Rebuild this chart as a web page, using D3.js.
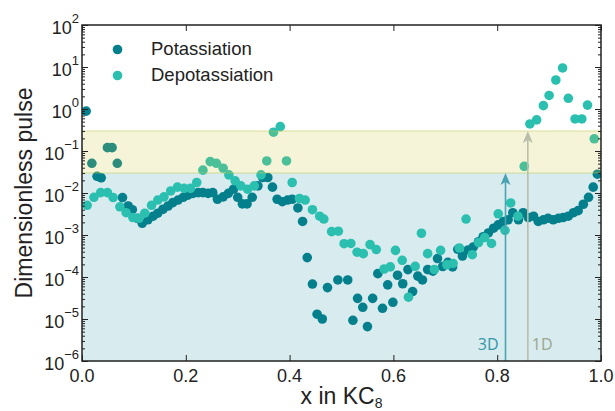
<!DOCTYPE html>
<html>
<head>
<meta charset="utf-8">
<script src="https://cdn.jsdelivr.net/npm/d3@7"></script>
<style>
  body { margin: 0; background: #fff; }
  svg text { font-family: "Liberation Sans", Arial, Helvetica, sans-serif; fill: #222; }
</style>
</head>
<body>
<div id="chart"></div>
<script>
const width = 615,
   height = 411,
   margin = {top: 25, right: 14, bottom: 50, left: 82};

// Potassiation: x in KC8 and pulse
const potX = [0.008, 0.019, 0.029, 0.037, 0.049, 0.058, 0.068, 0.078, 0.089, 0.097,
   0.107, 0.116, 0.127, 0.137, 0.146, 0.156, 0.166, 0.175, 0.185, 0.195,
   0.204, 0.214, 0.224, 0.233, 0.243, 0.252, 0.261, 0.272, 0.282, 0.292,
   0.300, 0.309, 0.318, 0.328, 0.339, 0.348, 0.358, 0.367, 0.376, 0.386,
   0.396, 0.405, 0.416, 0.425, 0.434, 0.444, 0.453, 0.463, 0.473, 0.493,
   0.512, 0.522, 0.531, 0.541, 0.550, 0.560, 0.570, 0.579, 0.589, 0.599,
   0.608, 0.618, 0.628, 0.637, 0.647, 0.656, 0.666, 0.676, 0.685, 0.695,
   0.705, 0.714, 0.724, 0.733, 0.744, 0.754, 0.764, 0.773, 0.783, 0.793,
   0.802, 0.812, 0.821, 0.830, 0.841, 0.850, 0.860, 0.870, 0.879, 0.889,
   0.898, 0.908, 0.918, 0.927, 0.937, 0.947, 0.956, 0.966, 0.976, 0.985, 0.993];
const potY = [0.89, 0.051, 0.025, 0.023, 0.12, 0.12, 0.051, 0.0078, 0.0049, 0.0040,
   0.0025, 0.0019, 0.0023, 0.0028, 0.0033, 0.0041, 0.0049, 0.0059, 0.0068, 0.0079,
   0.0089, 0.0098, 0.0102, 0.0102, 0.0098, 0.0102, 0.0071, 0.0081, 0.0098, 0.0123,
   0.0079, 0.0055, 0.0055, 0.0079, 0.0148, 0.0234, 0.0234, 0.0138, 0.0071, 0.0062,
   0.0068, 0.0071, 0.0044, 0.0021, 0.00029, 0.000068, 0.000013, 0.000010, 0.000056, 0.000085,
   0.000085, 0.0000093, 0.000031, 0.000019, 0.0000066, 0.000031, 0.00012, 0.000018, 0.000065, 0.000025,
   0.00011, 0.000069, 0.00015, 0.000045, 0.000105, 0.000085, 0.00015, 0.000138, 0.000275, 0.000178,
   0.000224, 0.000174, 0.000457, 0.000316, 0.00044, 0.00052, 0.00069, 0.00091, 0.00112, 0.00145,
   0.00174, 0.0021, 0.0023, 0.0034, 0.0023, 0.0034, 0.0026, 0.0028, 0.0021, 0.0023,
   0.0025, 0.0023, 0.0025, 0.0026, 0.0028, 0.0034, 0.0038, 0.0054, 0.0079, 0.0138, 0.028];

// Depotassiation
const depX = [0.010, 0.023, 0.036, 0.049, 0.060, 0.073, 0.085, 0.098, 0.110, 0.121,
   0.134, 0.146, 0.158, 0.171, 0.184, 0.197, 0.209, 0.221, 0.233, 0.247,
   0.259, 0.272, 0.283, 0.295, 0.306, 0.319, 0.332, 0.345, 0.356, 0.369,
   0.382, 0.394, 0.405, 0.419, 0.430, 0.444, 0.458, 0.466, 0.481, 0.494,
   0.505, 0.518, 0.530, 0.542, 0.555, 0.567, 0.582, 0.594, 0.604, 0.617,
   0.629, 0.642, 0.654, 0.666, 0.679, 0.691, 0.703, 0.715, 0.727, 0.740,
   0.752, 0.764, 0.776, 0.789, 0.802, 0.815, 0.826, 0.840, 0.852, 0.863,
   0.876, 0.889, 0.900, 0.913, 0.926, 0.937, 0.950, 0.963, 0.974, 0.987];
const depY = [0.0051, 0.0079, 0.0102, 0.0102, 0.0078, 0.0047, 0.0034, 0.0026, 0.0025, 0.0033,
   0.0051, 0.0068, 0.0081, 0.0112, 0.0138, 0.0129, 0.0129, 0.0178, 0.035, 0.056,
   0.051, 0.039, 0.027, 0.0195, 0.0148, 0.0123, 0.0148, 0.027, 0.058, 0.28,
   0.38, 0.058, 0.0178, 0.0074, 0.0068, 0.0040, 0.0028, 0.0024, 0.0012, 0.00123,
   0.00062, 0.00063, 0.00039, 0.00036, 0.00059, 0.00045, 0.000155, 0.000174, 0.00043, 0.00025,
   0.000033, 0.00018, 0.0011, 0.00036, 0.000151, 0.00043, 0.000195, 0.00021, 0.00049, 0.0024,
   0.00034, 0.00066, 0.00087, 0.00063, 0.0032, 0.00129, 0.0058, 0.0028, 0.043, 0.44,
   0.55, 1.2, 2.1, 4.9, 9.5, 1.8, 0.58, 0.58, 1.24, 0.195];

const xTicks = [0, 0.2, 0.4, 0.6, 0.8, 1.0];
const yExponents = [-6, -5, -4, -3, -2, -1, 0, 1, 2];
const seriesNames = ['Potassiation', 'Depotassiation'];
const seriesColors = ['#047f8c', '#2bbfb0'];
const bands = [[1e-6, 0.03], [0.03, 0.3]];
const arrows = [{label: '3D', x: 0.816, top: 0.03}, {label: '1D', x: 0.859, top: 0.3}];

const svg = d3.select('#chart')
   .append('svg')
   .attr('width', width)
   .attr('height', height);

const xScale = d3.scaleLinear()
   .domain([0, 1])
   .range([margin.left, width - margin.right]);

const yScale = d3.scaleLog()
   .domain([1e-6, 1e2])
   .range([height - margin.bottom, margin.top]);

const x0 = xScale(0), x1 = xScale(1), y0 = yScale(1e-6), y1 = yScale(1e2);

svg.append('clipPath').attr('id', 'plot-clip')
   .append('rect')
   .attr('x', x0).attr('y', y1)
   .attr('width', x1 - x0).attr('height', y0 - y1);

const plot = svg.append('g').attr('clip-path', 'url(#plot-clip)');

// blue band beneath points
plot.append('rect')
   .attr('x', x0)
   .attr('width', x1 - x0)
   .attr('y', yScale(bands[0][1]))
   .attr('height', yScale(bands[0][0]) - yScale(bands[0][1]))
   .attr('fill', '#d8ebee');

const potData = potX.map((d, i) => ({x: d, y: potY[i]}));
const depData = depX.map((d, i) => ({x: d, y: depY[i]}));

[potData, depData].forEach((data, k) => {
   plot.append('g')
      .selectAll('circle')
      .data(data)
      .join('circle')
      .attr('cx', d => xScale(d.x))
      .attr('cy', d => yScale(d.y))
      .attr('r', 4.8)
      .attr('fill', seriesColors[k]);
});

// yellow band above points
plot.append('rect')
   .attr('x', x0)
   .attr('width', x1 - x0)
   .attr('y', yScale(bands[1][1]))
   .attr('height', yScale(bands[1][0]) - yScale(bands[1][1]))
   .attr('fill', 'rgba(205,200,60,0.2)')
   .attr('stroke', 'rgba(185,200,80,0.35)')
   .attr('stroke-width', 1.5);

// arrows
const arrowColors = ['#48a3b3', '#b7bfa9'];
const labelColors = ['#3497a8', '#9aa68e'];
arrows.forEach((a, i) => {
   const ax = xScale(a.x), tip = yScale(a.top);
   plot.append('line')
      .attr('x1', ax).attr('x2', ax)
      .attr('y1', y0).attr('y2', tip + 8)
      .attr('stroke', arrowColors[i])
      .attr('stroke-width', 1.6);
   plot.append('path')
      .attr('d', `M${ax},${tip} L${ax + 5},${tip + 12} L${ax},${tip + 9} L${ax - 5},${tip + 12} Z`)
      .attr('fill', arrowColors[i]);
   svg.append('text')
      .attr('x', i === 0 ? ax - 7 : ax + 4)
      .attr('y', 350)
      .attr('text-anchor', i === 0 ? 'end' : 'start')
      .style('font-family', '"Open Sans", "Liberation Sans", sans-serif')
      .style('font-size', '16px')
      .style('fill', labelColors[i])
      .text(a.label);
});

// minor log ticks
const minorTicks = [];
yExponents.slice(0, -1).forEach(e => {
   for (let m = 2; m <= 9; m++) minorTicks.push(m * Math.pow(10, e));
});
const majorTicks = yExponents.map(e => Math.pow(10, e));

const axisStyle = g => {
   g.select('.domain').remove();
   g.selectAll('line').attr('stroke', '#222').attr('stroke-width', 1);
};

svg.append('g')
   .attr('transform', `translate(${x0},0)`)
   .call(d3.axisLeft(yScale).tickValues(minorTicks).tickSizeInner(-3).tickSizeOuter(0).tickFormat(''))
   .call(axisStyle);
svg.append('g')
   .attr('transform', `translate(${x0},0)`)
   .call(d3.axisLeft(yScale).tickValues(majorTicks).tickSizeInner(-6).tickSizeOuter(0).tickFormat(''))
   .call(axisStyle);
svg.append('g')
   .attr('transform', `translate(${x1},0)`)
   .call(d3.axisRight(yScale).tickValues(minorTicks).tickSizeInner(-3).tickSizeOuter(0).tickFormat(''))
   .call(axisStyle);
svg.append('g')
   .attr('transform', `translate(${x1},0)`)
   .call(d3.axisRight(yScale).tickValues(majorTicks).tickSizeInner(-6).tickSizeOuter(0).tickFormat(''))
   .call(axisStyle);
svg.append('g')
   .attr('transform', `translate(0,${y0})`)
   .call(d3.axisBottom(xScale).tickValues(xTicks).tickSizeInner(-6).tickSizeOuter(0).tickFormat(''))
   .call(axisStyle);
svg.append('g')
   .attr('transform', `translate(0,${y1})`)
   .call(d3.axisTop(xScale).tickValues(xTicks).tickSizeInner(-6).tickSizeOuter(0).tickFormat(''))
   .call(axisStyle);

// frame
svg.append('rect')
   .attr('x', x0).attr('y', y1)
   .attr('width', x1 - x0).attr('height', y0 - y1)
   .attr('fill', 'none')
   .attr('stroke', '#222')
   .attr('stroke-width', 1.5);

// y tick labels as 10^n
const yLabels = svg.append('g')
   .selectAll('text')
   .data(yExponents)
   .join('text')
   .attr('x', 79)
   .attr('y', d => yScale(Math.pow(10, d)) + 8.5)
   .attr('text-anchor', 'end')
   .style('font-size', '18px');
yLabels.append('tspan').text('10');
yLabels.append('tspan')
   .attr('dy', -11)
   .style('font-size', '13px')
   .text(d => d < 0 ? '\u2212' + Math.abs(d) : d);

// x tick labels
svg.append('g')
   .selectAll('text')
   .data(xTicks)
   .join('text')
   .attr('x', d => xScale(d))
   .attr('y', 382)
   .attr('text-anchor', 'middle')
   .style('font-size', '18px')
   .text(d => d.toFixed(1));

// axis titles
const xTitle = svg.append('text')
   .attr('x', (x0 + x1) / 2)
   .attr('y', 404)
   .attr('text-anchor', 'middle')
   .style('font-size', '23px');
xTitle.append('tspan').text('x in KC');
xTitle.append('tspan').attr('dy', 4).style('font-size', '14px').text('8');

svg.append('text')
   .attr('transform', `translate(32,${(y0 + y1) / 2}) rotate(-90)`)
   .attr('text-anchor', 'middle')
   .style('font-size', '23px')
   .text('Dimensionless pulse');

// legend
const legend = svg.append('g')
   .selectAll('g')
   .data(seriesNames)
   .join('g')
   .attr('transform', (d, i) => `translate(0,${i * 26})`);
legend.append('circle')
   .attr('cx', 117.5)
   .attr('cy', 49.5)
   .attr('r', 4.8)
   .attr('fill', (d, i) => seriesColors[i]);
legend.append('text')
   .attr('x', 151)
   .attr('y', 55)
   .style('font-size', '18.5px')
   .text(d => d);
</script>
</body>
</html>
